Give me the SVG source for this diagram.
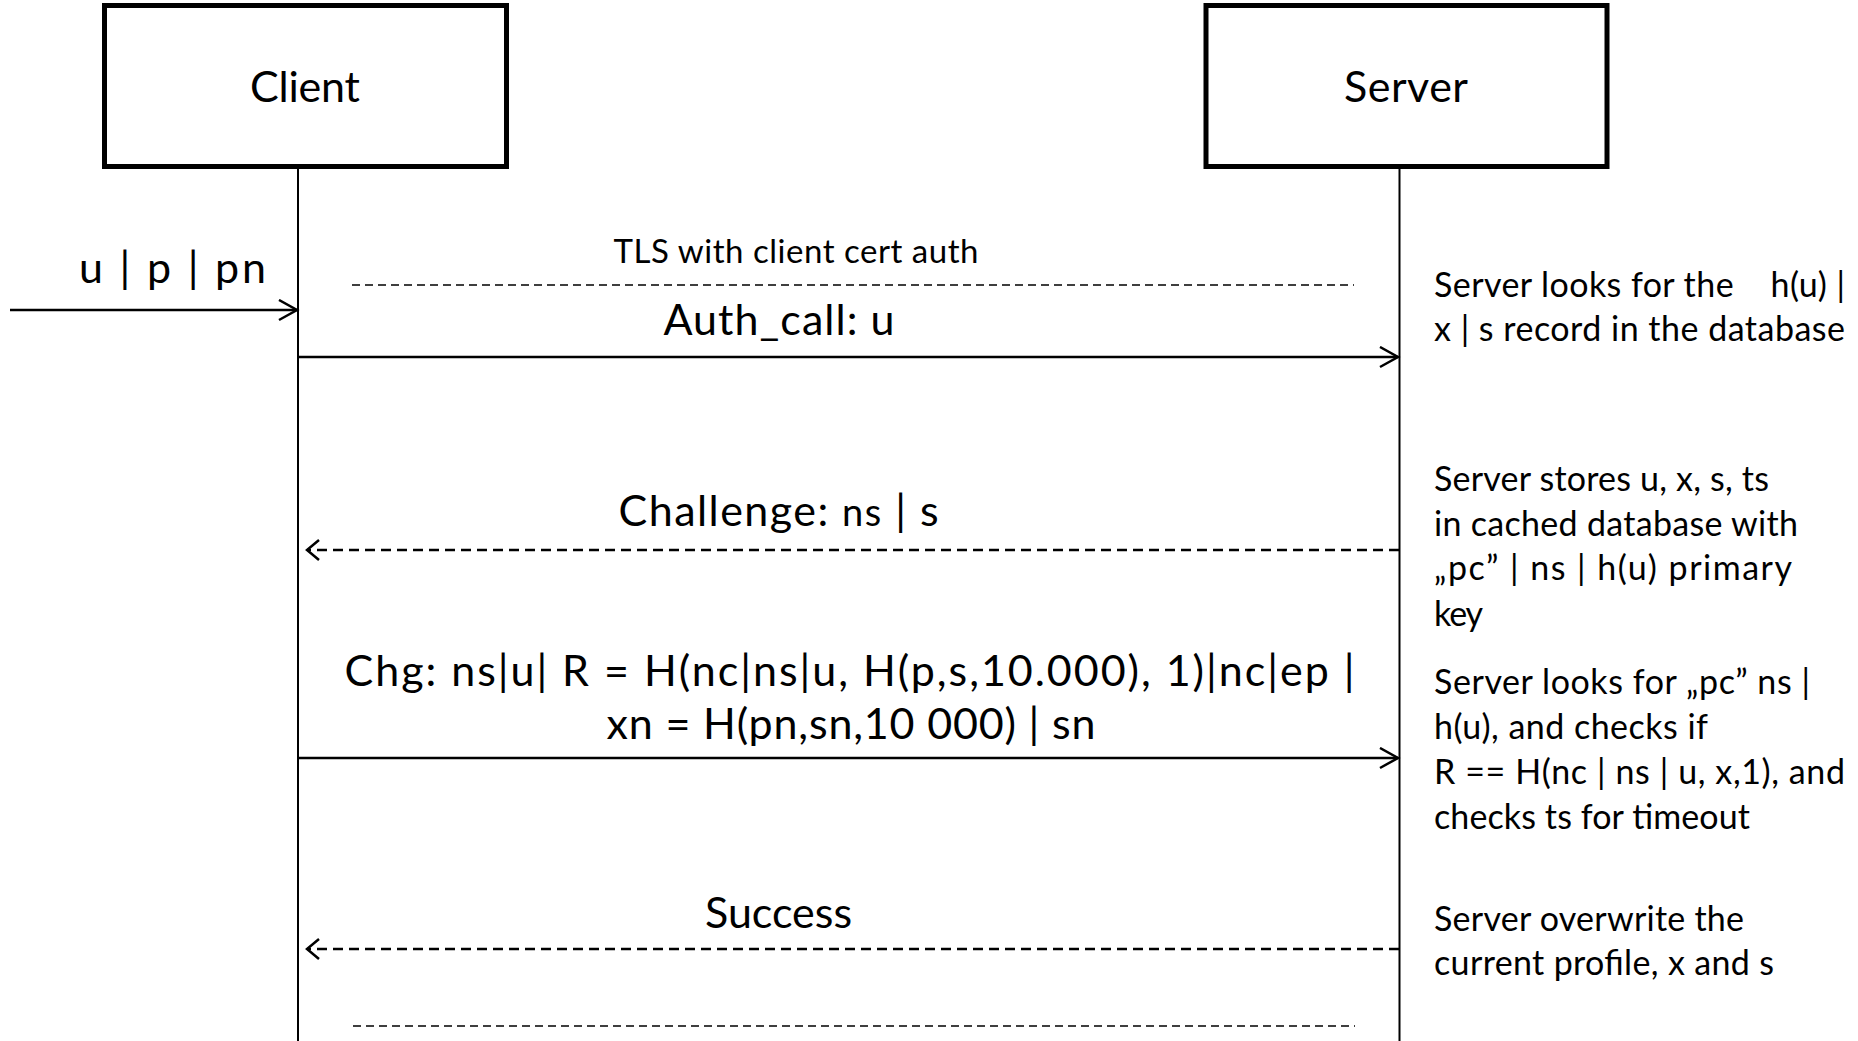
<svg xmlns="http://www.w3.org/2000/svg" width="1858" height="1041" viewBox="0 0 1858 1041">
  <style>
    .box { fill: #ffffff; stroke: #000000; stroke-width: 5; }
    .life { stroke: #000000; stroke-width: 2; fill: none; }
    .msg { stroke: #000000; stroke-width: 2.5; fill: none; }
    .ret { stroke: #000000; stroke-width: 2.5; fill: none; stroke-dasharray: 10 6; }
    .thin { stroke: #000000; stroke-width: 1.5; fill: none; stroke-dasharray: 8 5; }
    text { font-family: Lato, "Open Sans", "Liberation Sans", sans-serif; fill: #000000; }
    .big { font-size: 43px; }
    .mid { font-size: 33px; }
    .note { font-size: 34px; white-space: pre; }
  </style>
  <defs>
    <marker id="open" markerUnits="userSpaceOnUse" markerWidth="30" markerHeight="30" refX="20" refY="11" orient="auto">
      <path d="M2,1 L20,11 L2,21" fill="none" stroke="#000000" stroke-width="2.5"/>
    </marker>
    <marker id="openSmall" markerUnits="userSpaceOnUse" markerWidth="30" markerHeight="30" refX="14" refY="11" orient="auto">
      <path d="M2,1 L14,11 L2,21" fill="none" stroke="#000000" stroke-width="2.5"/>
    </marker>
  </defs>

  <g id="client">
    <rect class="box" x="104.5" y="5.5" width="402" height="161"/>
    <text class="big" x="305" y="102" text-anchor="middle" textLength="110" lengthAdjust="spacing">Client</text>
  </g>
  <g id="server">
    <rect class="box" x="1206" y="5.5" width="401" height="161"/>
    <text class="big" x="1406" y="102" text-anchor="middle" textLength="124" lengthAdjust="spacing">Server</text>
  </g>

  <g id="connectors">
    <line class="life" x1="298" y1="166" x2="298" y2="1041"/>
    <line class="life" x1="1399.5" y1="166" x2="1399.5" y2="1041"/>
    <line class="msg" x1="10" y1="310" x2="297" y2="310" marker-end="url(#open)"/>
    <line class="thin" x1="352" y1="285" x2="1354" y2="285"/>
    <line class="msg" x1="298" y1="357" x2="1398" y2="357" marker-end="url(#open)"/>
    <line class="ret" x1="1399" y1="550" x2="307" y2="550" marker-end="url(#openSmall)"/>
    <line class="msg" x1="298" y1="758" x2="1398" y2="758" marker-end="url(#open)"/>
    <line class="ret" x1="1399" y1="949" x2="307" y2="949" marker-end="url(#openSmall)"/>
    <line class="thin" x1="353" y1="1026" x2="1355" y2="1026"/>
  </g>

  <g id="labels">
    <text class="big" x="266" y="283" text-anchor="end" textLength="187" lengthAdjust="spacing">u | p | pn</text>
    <text class="mid" x="796" y="263" text-anchor="middle" textLength="365" lengthAdjust="spacing">TLS with client cert auth</text>
    <text class="big" x="779" y="335" text-anchor="middle" textLength="231" lengthAdjust="spacing">Auth_call: u</text>
    <text class="big" x="778.5" y="526" text-anchor="middle" textLength="320" lengthAdjust="spacing">Challenge: <tspan font-size="38">ns</tspan> | s</text>
    <text class="big" x="849.5" y="686" text-anchor="middle" textLength="1010" lengthAdjust="spacing">Chg: ns|u| R = H(nc|ns|u, H(p,s,10.000), 1)|nc|ep |</text>
    <text class="big" x="851" y="739" text-anchor="middle" textLength="489" lengthAdjust="spacing">xn = H(pn,sn,10 000) | sn</text>
    <text class="big" x="778.5" y="928" text-anchor="middle" textLength="147" lengthAdjust="spacing">Success</text>
  </g>

  <g id="notes">
    <text class="note" x="1434" y="297" textLength="411" lengthAdjust="spacing">Server looks for the    h(u) |</text>
    <text class="note" x="1434" y="341" textLength="411" lengthAdjust="spacing">x | s record in the database</text>
    <text class="note" x="1434" y="491" textLength="335" lengthAdjust="spacing">Server stores u, x, s, ts</text>
    <text class="note" x="1434" y="536" textLength="364" lengthAdjust="spacing">in cached database with</text>
    <text class="note" x="1434" y="580" textLength="358" lengthAdjust="spacing">„pc” | ns | h(u) primary</text>
    <text class="note" x="1434" y="626" textLength="49" lengthAdjust="spacing">key</text>
    <text class="note" x="1434" y="694" textLength="376" lengthAdjust="spacing">Server looks for „pc” ns |</text>
    <text class="note" x="1434" y="739" textLength="274" lengthAdjust="spacing">h(u), and checks if</text>
    <text class="note" x="1434" y="784" textLength="411" lengthAdjust="spacing">R == H(nc | ns | u, x,1), and</text>
    <text class="note" x="1434" y="829" textLength="316" lengthAdjust="spacing">checks ts for timeout</text>
    <text class="note" x="1434" y="931" textLength="310" lengthAdjust="spacing">Server overwrite the</text>
    <text class="note" x="1434" y="975" textLength="340" lengthAdjust="spacing">current profile, x and s</text>
  </g>
</svg>
